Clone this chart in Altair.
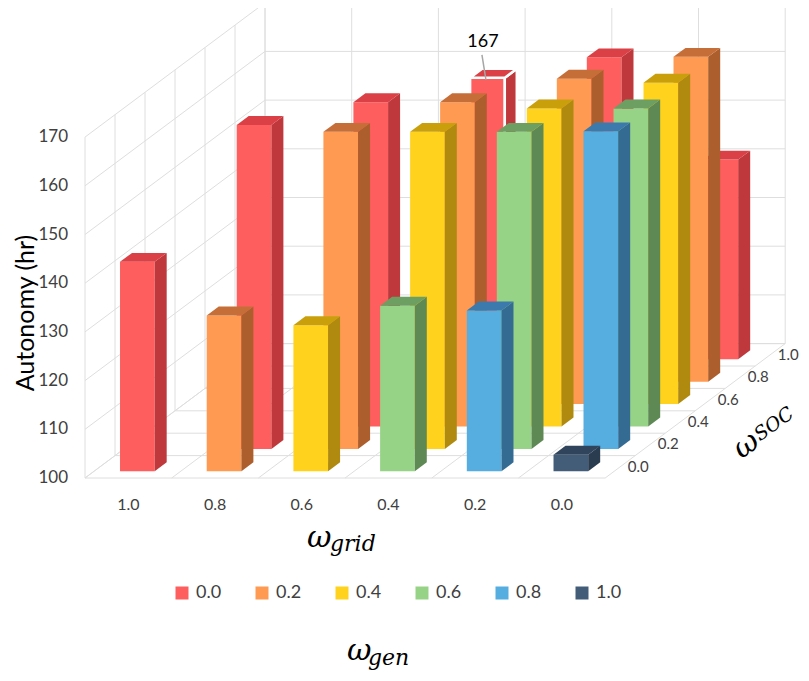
import altair as alt
import pandas as pd

# ---------------- data ----------------
grid_labels = ["1.0", "0.8", "0.6", "0.4", "0.2", "0.0"]   # ω_grid, left -> right
soc_labels = ["0.0", "0.2", "0.4", "0.6", "0.8", "1.0"]    # ω_SOC, front -> back
gen_labels = ["0.0", "0.2", "0.4", "0.6", "0.8", "1.0"]    # ω_gen (colour)
y_ticks = [100, 110, 120, 130, 140, 150, 160, 170]

# Autonomy (hr) per ω_SOC row, from ω_gen = 0.0 upward (ω_grid = 1 - ω_SOC - ω_gen)
soc_00 = [143, 132, 130, 134, 133, 103.4]
soc_02 = [166.5, 165.1, 165.1, 165.1, 165.2]
soc_04 = [166.6, 166.6, 165.3, 165.3]
soc_06 = [167, 166.8, 166]
soc_08 = [166.6, 166.7]
soc_10 = [141]

front_colors = ["#FF5E5E", "#FF9A52", "#FFD21E", "#97D386", "#55ADE0", "#435D79"]
side_colors = ["#BF383B", "#AC5E2D", "#AF8A0F", "#5E8955", "#336B93", "#2A3C50"]
top_colors = ["#DA4045", "#C66E38", "#C9A00C", "#6E9F62", "#3C7AAD", "#30445B"]

rows = [soc_00, soc_02, soc_04, soc_06, soc_08, soc_10]
recs = []
for j, vals in enumerate(rows):
    for k, v in enumerate(vals):
        recs.append(dict(id=f"{j}_{k}", i=j + k, j=j, value=v,
                         gen=gen_labels[k], side="s" + gen_labels[k],
                         top="t" + gen_labels[k], sel=int(j == 3 and k == 0)))
bars = pd.DataFrame(recs)

# ---------------- projection constants ----------------
W, H = 716, 470
PX_CAT = 86.7          # px per ω_grid category
PX_VAL = 4.87          # px per hour
DX = 30.0 / PX_CAT     # depth shift per ω_SOC row (category units)
DY = 22.4 / PX_VAL     # depth shift per ω_SOC row (value units)
OFF, BW = 0.3, 0.4     # bar offset / width within a category
D0, DD = 0.3, 0.4      # bar front depth / depth within a row
NC = len(grid_labels)
VMAX = max(y_ticks)

xs = alt.Scale(domain=[0, W / PX_CAT], nice=False, zero=False)
ys = alt.Scale(domain=[100, 100 + H / PX_VAL], nice=False, zero=False)
cs = alt.Scale(domain=gen_labels + ["s" + g for g in gen_labels] + ["t" + g for g in gen_labels],
               range=front_colors + side_colors + top_colors)

legend = alt.Legend(orient="none", legendX=88, legendY=576, direction="horizontal",
                    title=None, values=gen_labels, symbolType="square", symbolSize=169,
                    symbolStrokeWidth=0, symbolOpacity=1, labelFont="Lato", labelFontSize=18,
                    labelColor="#404040", labelOffset=5, columnPadding=31, padding=0)

# ---------------- grid lines (walls + floor) ----------------
segs = []
for v in y_ticks:
    segs.append((NC * DX, v + NC * DY, NC + NC * DX, v + NC * DY))   # back wall
    segs.append((0, v, NC * DX, v + NC * DY))                        # left wall
for i in range(NC + 1):
    segs.append((i + NC * DX, 100 + NC * DY, i + NC * DX, VMAX + NC * DY))  # back wall verticals
    segs.append((i, 100, i + NC * DX, 100 + NC * DY))                      # floor
for j in range(len(soc_labels) + 1):
    segs.append((j * DX, 100 + j * DY, j * DX, VMAX + j * DY))      # left wall verticals
    segs.append((j * DX, 100 + j * DY, NC + j * DX, 100 + j * DY))  # floor
grid_df = pd.DataFrame(segs, columns=["xa", "ya", "xb", "yb"])

grid_layer = alt.Chart(grid_df).mark_rule(color="#DEDEDE", strokeWidth=1).encode(
    x=alt.X("xa:Q", scale=xs, axis=None),
    y=alt.Y("ya:Q", scale=ys, axis=None),
    x2="xb:Q", y2="yb:Q")

layers = [grid_layer]

# ---------------- value axis (left wall front edge) ----------------
ytick_df = pd.DataFrame({"v": y_ticks})
layers.append(alt.Chart(ytick_df).mark_text(
    font="Lato", fontSize=17, color="#404040", align="right", baseline="middle").encode(
    x=alt.value(-17), y=alt.Y("v:Q", scale=ys, axis=None), text=alt.Text("v:Q", format="d")))

# ---------------- ω_grid axis labels ----------------
xtick_df = pd.DataFrame({"label": grid_labels, "c": list(range(NC))})
layers.append(alt.Chart(xtick_df).transform_calculate(cx="datum.c + 0.5").mark_text(
    font="Lato", fontSize=16, color="#404040", align="center", baseline="middle").encode(
    x=alt.X("cx:Q", scale=xs, axis=None), y=alt.value(H + 27), text="label:N"))

# ---------------- bars ----------------
geo = dict(
    x1=f"datum.i + {OFF} + (datum.j + {D0}) * {DX}",
    x2=f"datum.x1 + {BW}",
    y1=f"100 + (datum.j + {D0}) * {DY}",
    y2=f"datum.value + (datum.j + {D0}) * {DY}",
)
base = alt.Chart(bars)
sel_sw = alt.when("datum.sel == 1").then(alt.value(2.5)).otherwise(alt.value(0))

for j in reversed(range(len(rows))):
    b = base.transform_filter(f"datum.j == {j}").transform_calculate(**geo)
    front = b.mark_rect(stroke="white").encode(
        x=alt.X("x1:Q", scale=xs, axis=None), x2="x2:Q",
        y=alt.Y("y1:Q", scale=ys, axis=None), y2="y2:Q",
        color=alt.Color("gen:N", scale=cs, legend=legend),
        strokeWidth=sel_sw)
    flat = b.transform_calculate(t="[0, 1]").transform_flatten(["t"]).transform_calculate(
        xs=f"datum.x2 + datum.t * {DD * DX}",
        ylo=f"datum.y1 + datum.t * {DD * DY}",
        yhi=f"datum.y2 + datum.t * {DD * DY}",
        yt=f"datum.y2 + datum.t * {DD * DY}",
        xl=f"datum.x1 + datum.t * {DD * DX}",
        xr=f"datum.x2 + datum.t * {DD * DX}",
    )
    side = flat.mark_area(orient="vertical", stroke="white").encode(
        x=alt.X("xs:Q", scale=xs, axis=None),
        y=alt.Y("ylo:Q", scale=ys, axis=None), y2="yhi:Q",
        detail="id:N",
        color=alt.Color("side:N", scale=cs, legend=None),
        strokeWidth=sel_sw)
    top = flat.mark_area(orient="horizontal", stroke="white").encode(
        y=alt.Y("yt:Q", scale=ys, axis=None),
        x=alt.X("xl:Q", scale=xs, axis=None), x2="xr:Q",
        detail="id:N",
        color=alt.Color("top:N", scale=cs, legend=None),
        strokeWidth=sel_sw)
    layers += [front, side, top]

# ---------------- depth (ω_SOC) axis labels ----------------
soc_df = pd.DataFrame({"label": soc_labels, "j": list(range(len(soc_labels)))})
layers.append(alt.Chart(soc_df).transform_calculate(
    lx=f"{NC} + (datum.j + 0.5) * {DX} + {18 / PX_CAT}",
    ly=f"100 + (datum.j + 0.5) * {DY}",
).mark_text(font="Lato", fontSize=15, color="#404040", align="center", baseline="middle").encode(
    x=alt.X("lx:Q", scale=xs, axis=None), y=alt.Y("ly:Q", scale=ys, axis=None), text="label:N"))

# ---------------- data label 167 ----------------
lab = base.transform_filter("datum.sel == 1").transform_calculate(**geo).transform_calculate(
    cx=f"datum.x1 + {BW / 2}",
    tx=f"datum.cx - {4.5 / PX_CAT}",
    ty=f"datum.y2 + {35.8 / PX_VAL}",
    lx1=f"datum.cx - {5.5 / PX_CAT}",
    ly1=f"datum.y2 + {22.8 / PX_VAL}",
    lx2=f"datum.cx - {1.5 / PX_CAT}",
    ly2=f"datum.y2 - {2.2 / PX_VAL}",
    txt="format(datum.value, 'd')",
)
leader = lab.mark_rule(color="#A6A6A6", strokeWidth=1.5).encode(
    x=alt.X("lx1:Q", scale=xs, axis=None), y=alt.Y("ly1:Q", scale=ys, axis=None),
    x2="lx2:Q", y2="ly2:Q")
lab_text = lab.mark_text(font="Lato", fontSize=18, color="#000000", align="center",
                         baseline="middle").encode(
    x=alt.X("tx:Q", scale=xs, axis=None), y=alt.Y("ty:Q", scale=ys, axis=None), text="txt:N")
layers += [leader, lab_text]

# ---------------- titles ----------------
one = pd.DataFrame({"k": [0]})


def txt(s, px, py, size, align="left", baseline="alphabetic", angle=0,
        font="DejaVu Serif", style="italic"):
    kw = dict(text=s, font=font, fontStyle=style, fontSize=size,
              color="#000000", align=align, baseline=baseline)
    enc = dict(x=alt.value(px), y=alt.value(py))
    if angle:
        kw["angle"] = angle
        enc["angle"] = alt.value(angle)
    return alt.Chart(one).mark_text(**kw).encode(**enc)


layers += [
    txt("Autonomy (hr)", -59, 305, 25, align="center", baseline="middle", angle=270,
        font="Lato", style="normal"),
    txt("ω", 222, 539, 30), txt("grid", 245, 543, 22),
    txt("ω", 262, 652, 30), txt("gen", 283, 657, 22),
    txt("ω", 661, 437, 30, align="center", baseline="middle", angle=324),
    txt("SOC", 689, 416, 19, align="center", baseline="middle", angle=324),
]

chart = alt.layer(*layers).properties(
    width=W, height=H,
    padding={"left": 77, "top": 0, "right": 0, "bottom": 195},
    autosize=alt.AutoSizeParams(type="none"),
    background="white",
).configure_view(stroke="transparent")

chart.save("out.html", embed_options={"renderer": "svg", "actions": False})
